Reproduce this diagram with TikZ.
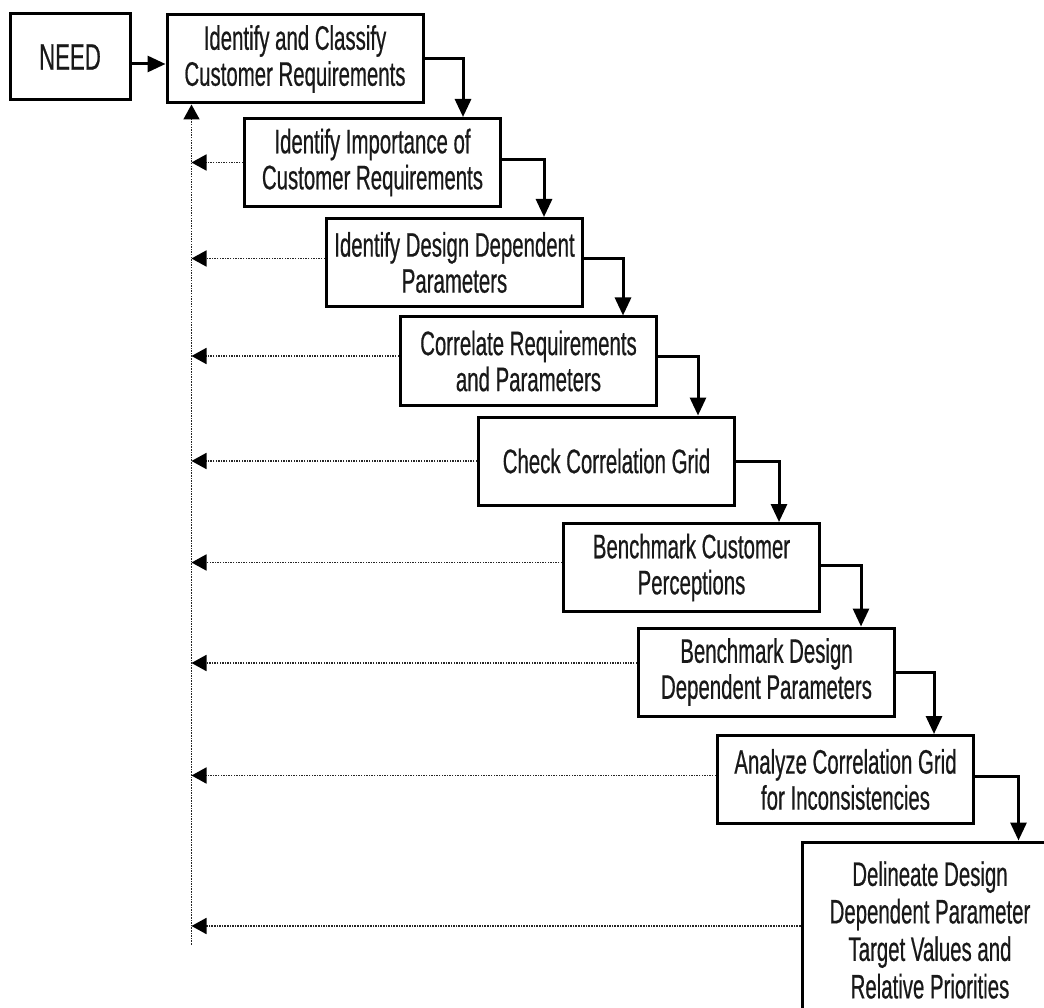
\documentclass[tikz,border=0pt]{standalone}
\usepackage{fontspec}
\setmainfont{Liberation Sans}[FakeStretch=0.6,FakeBold=0.5]
\usetikzlibrary{arrows.meta}
\tikzset{
  stepbox/.style={draw=black, line width=3pt, fill=white, minimum width=256pt,
    minimum height=88pt, inner sep=0pt, align=center, text=black!90,
    font=\fontsize{34}{36}\selectfont},
  flow/.style={draw=black, line width=3pt,
    -{Triangle[length=18pt,width=16pt]}},
  feedback/.style={draw=black!85, line width=1.8pt, dash pattern=on 1.5pt off 1.1pt,
    -{Triangle[length=15pt,width=16pt,color=black]}},
}
\begin{document}
\begin{tikzpicture}[x=1pt,y=-1pt]
\clip (0,0) rectangle (1044,1008);
\fill[white] (0,0) rectangle (1044,1008);

% process steps
\node[stepbox, minimum width=120pt, minimum height=86pt, font=\fontsize{37}{38}\selectfont] (need) at (70,57) {NEED};
\node[stepbox] (b1) at (295,59)    {Identify and Classify\\Customer Requirements};
\node[stepbox] (b2) at (372.5,162.5) {Identify Importance of\\Customer Requirements};
\node[stepbox] (b3) at (454.5,262.5) {Identify Design Dependent\\Parameters};
\node[stepbox] (b4) at (528.5,361) {Correlate Requirements\\and Parameters};
\node[stepbox] (b5) at (606.5,461) {Check Correlation Grid};
\node[stepbox] (b6) at (691.5,567.5) {Benchmark Customer\\Perceptions};
\node[stepbox] (b7) at (766.5,672) {Benchmark Design\\Dependent Parameters};
\node[stepbox] (b8) at (845.5,779.5) {Analyze Correlation Grid\\for Inconsistencies};
\node[stepbox, minimum height=176pt, font=\fontsize{34}{37.5}\selectfont] (b9) at (930,930)
  {Delineate Design\\Dependent Parameter\\Target Values and\\Relative Priorities};

% forward flow
\draw[flow] ([yshift=-7pt]need.east) -- ([yshift=-7pt]need.east -| b1.west);
\draw[flow] (b1.east) -| ([xshift=-39pt]b2.north east);
\draw[flow] ([yshift=3pt]b2.east) -| ([xshift=-40pt]b3.north east);
\draw[flow] ([yshift=4pt]b3.east) -| ([xshift=-35pt]b4.north east);
\draw[flow] ([yshift=5pt]b4.east) -| ([xshift=-38pt]b5.north east);
\draw[flow] (b5.east) -| ([xshift=-42pt]b6.north east);
\draw[flow] ([yshift=2pt]b6.east) -| ([xshift=-35pt]b7.north east);
\draw[flow] (b7.east) -| ([xshift=-41pt]b8.north east);
\draw[flow] ([yshift=3pt]b8.east) -| ([xshift=-41pt]b9.north east);

% feedback spine
\coordinate (spinetop) at ([xshift=26pt]b1.south west);
\coordinate (spinebot) at ([yshift=-840pt]spinetop);
\draw[feedback] (spinebot) -- (spinetop);

% feedback from each step
\draw[feedback] (b2.west) -- (b2.west -| spinetop);
\draw[feedback] ([yshift=4pt]b3.west) -- ([yshift=4pt]b3.west -| spinetop);
\draw[feedback] ([yshift=5pt]b4.west) -- ([yshift=5pt]b4.west -| spinetop);
\draw[feedback] (b5.west) -- (b5.west -| spinetop);
\draw[feedback] ([yshift=5pt]b6.west) -- ([yshift=5pt]b6.west -| spinetop);
\draw[feedback] ([yshift=9pt]b7.west) -- ([yshift=9pt]b7.west -| spinetop);
\draw[feedback] ([yshift=4pt]b8.west) -- ([yshift=4pt]b8.west -| spinetop);
\draw[feedback] ([yshift=4pt]b9.west) -- ([yshift=4pt]b9.west -| spinetop);
\end{tikzpicture}
\end{document}
